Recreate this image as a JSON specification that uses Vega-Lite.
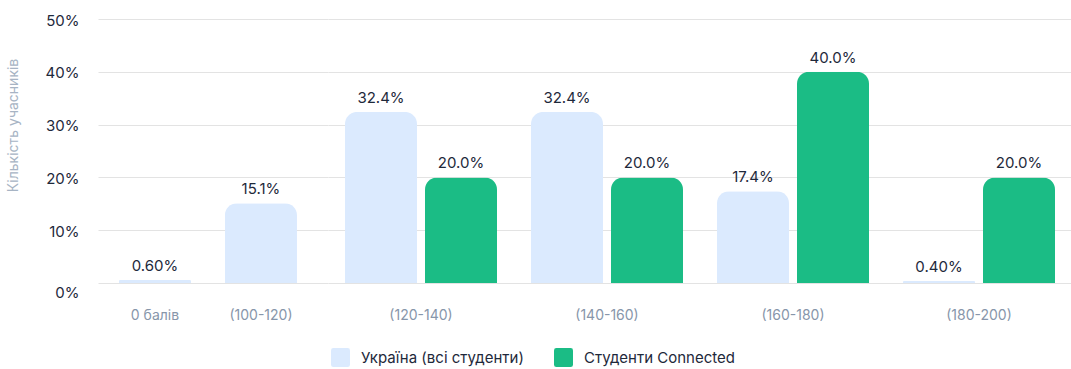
{
  "$schema": "https://vega.github.io/schema/vega-lite/v6.json",
  "padding": {"left": 5, "top": 13, "right": 0, "bottom": 0},
  "background": "white",
  "config": {
    "font": "Inter",
    "view": {"stroke": null},
    "concat": {"spacing": 0},
    "axis": {"gridColor": "#e3e3e3", "gridWidth": 1},
    "legend": {
      "orient": "none", "legendX": 233, "legendY": 329, "direction": "horizontal", "title": null,
      "symbolType": "M-0.75,-1H0.75Q1,-1 1,-0.75V0.75Q1,1 0.75,1H-0.75Q-1,1 -1,0.75V-0.75Q-1,-1 -0.75,-1Z",
      "symbolSize": 361, "symbolStrokeWidth": 0, "symbolOpacity": 1,
      "labelFontSize": 15, "labelColor": "#1e293b", "labelOffset": 11, "labelLimit": 400,
      "columnPadding": 30
    }
  },
  "datasets": {
    "single": [
      {"group": "0 балів", "series": "Україна (всі студенти)", "value": 0.6, "label": "0.60%"},
      {"group": "(100-120)", "series": "Україна (всі студенти)", "value": 15.1, "label": "15.1%"}
    ],
    "pairs": [
      {"group": "(120-140)", "series": "Україна (всі студенти)", "value": 32.4, "label": "32.4%"},
      {"group": "(120-140)", "series": "Студенти Connected", "value": 20.0, "label": "20.0%"},
      {"group": "(140-160)", "series": "Україна (всі студенти)", "value": 32.4, "label": "32.4%"},
      {"group": "(140-160)", "series": "Студенти Connected", "value": 20.0, "label": "20.0%"},
      {"group": "(160-180)", "series": "Україна (всі студенти)", "value": 17.4, "label": "17.4%"},
      {"group": "(160-180)", "series": "Студенти Connected", "value": 40.0, "label": "40.0%"},
      {"group": "(180-200)", "series": "Україна (всі студенти)", "value": 0.4, "label": "0.40%"},
      {"group": "(180-200)", "series": "Студенти Connected", "value": 20.0, "label": "20.0%"}
    ]
  },
  "hconcat": [
    {
      "width": 230,
      "height": 264,
      "data": {"name": "single"},
      "encoding": {
        "x": {
          "field": "group", "type": "nominal", "sort": null,
          "scale": {"paddingInner": 0, "paddingOuter": 0.085, "align": 0.22},
          "axis": {"title": null, "labelAngle": 0, "domain": false, "ticks": false, "labelPadding": 25, "labelFontSize": 14, "labelColor": "#8796aa"}
        },
        "y": {
          "field": "value", "type": "quantitative",
          "scale": {"domain": [0, 50], "nice": false},
          "axis": {
            "values": [0, 10, 20, 30, 40, 50],
            "labelExpr": "datum.value + '%'",
            "domain": false, "ticks": false, "labelPadding": 19,
            "labelFontSize": 15, "labelColor": "#1e293b",
            "labelOffset": {"condition": {"test": "datum.value === 0", "value": 9}, "value": 1},
            "title": "Кількість учасників",
            "titleFontSize": 14, "titleFontWeight": "normal", "titleColor": "#a7b4c4",
            "titleX": -85, "titleY": 106, "titleAlign": "center", "titleBaseline": "middle", "titleAngle": -90
          }
        }
      },
      "layer": [
        {
          "mark": {"type": "bar", "width": {"band": 0.68}, "cornerRadiusTopLeft": 12, "cornerRadiusTopRight": 12},
          "encoding": {
            "color": {"field": "series", "type": "nominal",
              "scale": {"domain": ["Україна (всі студенти)", "Студенти Connected"], "range": ["#dbeafe", "#1bbc85"]}}
          }
        },
        {
          "mark": {"type": "text", "baseline": "alphabetic", "dy": -9, "fontSize": 15, "color": "#1e293b"},
          "encoding": {"text": {"field": "label"}}
        }
      ]
    },
    {
      "width": 744,
      "height": 264,
      "data": {"name": "pairs"},
      "encoding": {
        "x": {
          "field": "group", "type": "nominal", "sort": null,
          "scale": {"paddingInner": 0, "paddingOuter": 0},
          "axis": {"title": null, "labelAngle": 0, "domain": false, "ticks": false, "labelPadding": 25, "labelFontSize": 14, "labelColor": "#8796aa"}
        },
        "xOffset": {
          "field": "series", "type": "nominal",
          "sort": ["Україна (всі студенти)", "Студенти Connected"],
          "scale": {"domain": ["Україна (всі студенти)", "Студенти Connected"], "paddingInner": 0.1, "paddingOuter": 0.2125}
        },
        "y": {
          "field": "value", "type": "quantitative",
          "scale": {"domain": [0, 50], "nice": false},
          "axis": {"values": [0, 10, 20, 30, 40, 50], "labels": false, "title": null, "domain": false, "ticks": false, "grid": true}
        }
      },
      "layer": [
        {
          "mark": {"type": "bar", "cornerRadiusTopLeft": 12, "cornerRadiusTopRight": 12},
          "encoding": {
            "color": {"field": "series", "type": "nominal",
              "scale": {"domain": ["Україна (всі студенти)", "Студенти Connected"], "range": ["#dbeafe", "#1bbc85"]}}
          }
        },
        {
          "mark": {"type": "text", "baseline": "alphabetic", "dy": -9, "fontSize": 15, "color": "#1e293b"},
          "encoding": {"text": {"field": "label"}}
        }
      ]
    }
  ],
  "resolve": {"scale": {"y": "shared", "color": "shared"}}
}
